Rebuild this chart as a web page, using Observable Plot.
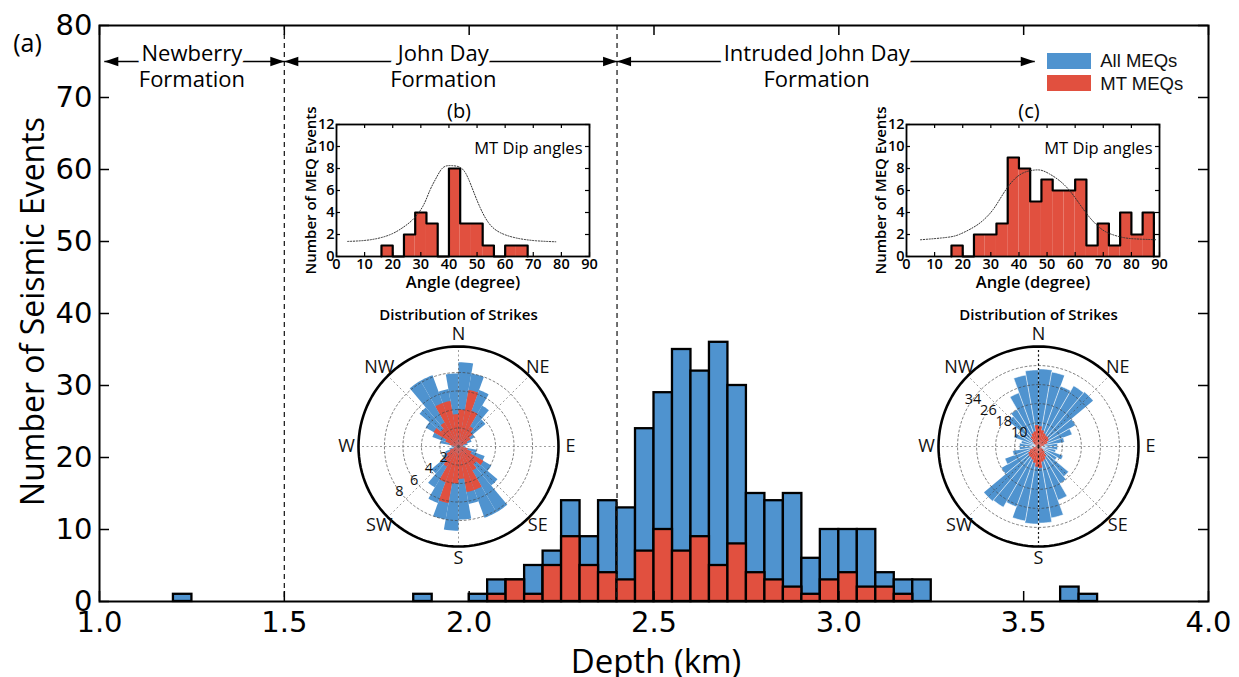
<!DOCTYPE html>
<html>
<head>
<meta charset="utf-8">
<script src="https://cdn.jsdelivr.net/npm/d3@7"></script>
<script src="https://cdn.jsdelivr.net/npm/@observablehq/plot@0.6"></script>
<style>
  html, body { margin: 0; padding: 0; background: #fff; }
  #fig { position: relative; width: 1239px; height: 677px; overflow: hidden; background: #fff; }
  #fig > * { position: absolute; }
</style>
</head>
<body>
<div id="fig"></div>
<script>
// ---- (a) depth histogram: 0.05 km bins, left edges ----
const depthBinStart = [1.20, 1.85,
  2.00, 2.05, 2.10, 2.15, 2.20, 2.25, 2.30, 2.35, 2.40, 2.45, 2.50, 2.55, 2.60,
  2.65, 2.70, 2.75, 2.80, 2.85, 2.90, 2.95, 3.00, 3.05, 3.10, 3.15, 3.20,
  3.60, 3.65];
const depthBinWidth = 0.05;
const allMEQs = [1, 1,
  1, 3, 3, 5, 7, 14, 9, 14, 13, 24, 29, 35, 32,
  36, 30, 15, 14, 15, 6, 10, 10, 10, 4, 3, 3,
  2, 1];
const mtMEQs = [0, 0,
  0, 1, 3, 1, 5, 9, 5, 4, 3, 7, 10, 7, 9,
  5, 8, 4, 3, 2, 1, 3, 4, 2, 2, 1, 0,
  0, 0];

const seriesNames = ["All MEQs", "MT MEQs"];
const seriesColors = ["#4f93cf", "#e1503f"];

// formations along the depth axis
const formationNames = ["Newberry\nFormation", "John Day\nFormation", "Intruded John Day\nFormation"];
const formationFrom = [1.013, 1.5, 2.4];
const formationTo = [1.5, 2.4, 3.53];
const formationLabelX = [1.25, 1.93, 2.94];
const formationBoundaries = [1.5, 2.4];
const arrowLevel = 75;

const depthTicks = [1.0, 1.5, 2.0, 2.5, 3.0, 3.5, 4.0];
const countTicks = [0, 10, 20, 30, 40, 50, 60, 70, 80];

// ---- (b), (c) MT dip-angle histograms: 4 degree bins ----
const dipBinWidth = 4;
const dipTicks = [0, 10, 20, 30, 40, 50, 60, 70, 80, 90];
const dipCountTicks = [0, 2, 4, 6, 8, 10, 12];

const dipB_start = [16, 20, 24, 28, 32, 36, 40, 44, 48, 52, 56, 60, 64];
const dipB_count = [1, 0, 2, 4, 3, 0, 8, 3, 3, 1, 0, 1, 1];
const fitB_angle = [4, 12, 19, 23.7, 27.3, 30.8, 33.2, 35.6, 38, 41, 44, 46.3, 48.6, 51, 54, 58, 64, 71, 78];
const fitB_count = [1.37, 1.52, 1.98, 2.65, 3.4, 4.6, 6.0, 7.2, 8.1, 8.26, 8.1, 7.4, 6.0, 4.5, 3.1, 2.2, 1.68, 1.43, 1.34];

const dipC_start = [16, 20, 24, 28, 32, 36, 40, 44, 48, 52, 56, 60, 64, 68, 72, 76, 80, 84];
const dipC_count = [1, 0, 2, 2, 3, 9, 8, 5, 7, 6, 6, 7, 1, 3, 1, 4, 2, 4];
const fitC_angle = [5, 14.4, 19.1, 23.8, 27.3, 30.9, 34.4, 37.9, 41.5, 45, 47.9, 50.9, 54.4, 58, 61.5, 65, 68.6, 72.1, 76.8, 81.5, 89];
const fitC_count = [1.52, 1.74, 2.04, 2.65, 3.3, 4.3, 5.7, 6.9, 7.6, 7.84, 7.84, 7.5, 6.9, 6.0, 4.8, 3.6, 2.65, 2.1, 1.74, 1.6, 1.52];

// ---- rose diagrams of strikes: 10 degree sectors 0-180, mirrored to 180-360 ----
const sectorWidth = 10;
const roseB_all = [9.1, 8.0, 6.5, 5.1, 3.8, 2.0, 1.5, 1.0, 0.5, 0.8, 2.0, 3.0, 4.1, 5.5, 8.2, 8.2, 6.3, 7.9];
const roseB_mt  = [4.0, 6.2, 4.1, 2.5, 2.0, 1.5, 1.0, 0.5, 0.3, 0.5, 1.0, 1.5, 3.1, 2.5, 3.0, 5.0, 5.0, 3.5];
const roseB_rings = [2, 4, 6, 8];
const roseB_max = 10.8;

const roseC_all = [32.6, 31.8, 27, 29.5, 30, 18, 15, 11, 8, 8, 7.4, 11, 9, 16.5, 18, 24, 30.5, 32.2];
const roseC_mt  = [8.5, 7, 6, 5.5, 5.5, 5, 4, 2.5, 1.5, 1, 1, 1.5, 2.5, 3.5, 5, 6, 6.5, 9];
const roseC_rings = [10, 18, 26, 34];
const roseC_max = 42;

const compassNames = ["N", "NE", "E", "SE", "S", "SW", "W", "NW"];
const compassAngles = [0, 45, 90, 135, 180, 225, 270, 315];

const fig = document.getElementById("fig");
const place = (node, left, top) => {
  node.style.left = left + "px";
  node.style.top = top + "px";
  fig.appendChild(node);
  return node;
};

// filled arrowheads, tip at the anchor point
const headRight = {draw(c) { c.moveTo(0, 0); c.lineTo(-14, -4.8); c.lineTo(-14, 4.8); c.closePath(); }};
const headLeft = {draw(c) { c.moveTo(0, 0); c.lineTo(14, -4.8); c.lineTo(14, 4.8); c.closePath(); }};

// ---------------- (a) main chart ----------------
{
  const bins = depthBinStart.map((x0, i) => ({x0, x1: x0 + depthBinWidth, all: allMEQs[i], mt: mtMEQs[i]}));
  const formations = formationNames.map((name, i) => ({
    name, from: formationFrom[i], to: formationTo[i], lx: formationLabelX[i]
  }));
  const segments = formations.flatMap(f => [{x1: f.lx, x2: f.from}, {x1: f.lx, x2: f.to}]);
  const W = 1239, H = 677, mL = 99, mR = 31, mT = 25, mB = 76;
  const frameW = W - mL - mR, frameH = H - mT - mB, tick = 10;
  const font = "DejaVu Sans";

  const chart = Plot.plot({
    width: W, height: H,
    marginLeft: mL, marginRight: mR, marginTop: mT, marginBottom: mB,
    style: {background: "transparent", overflow: "visible"},
    x: {domain: [1, 4]},
    y: {domain: [0, 80]},
    marks: [
      Plot.rectY(bins, {x1: "x0", x2: "x1", y: "all", fill: seriesColors[0], stroke: "black", strokeWidth: 2.3}),
      Plot.rectY(bins.filter(d => d.mt > 0), {x1: "x0", x2: "x1", y: "mt", fill: seriesColors[1], stroke: "black", strokeWidth: 2.3}),
      Plot.ruleX(formationBoundaries, {stroke: "#222", strokeWidth: 1.3, strokeDasharray: "5,4"}),
      Plot.link(segments, {x1: "x1", x2: "x2", y1: arrowLevel, y2: arrowLevel, stroke: "black", strokeWidth: 1.6}),
      Plot.dot(formations, {x: "from", y: arrowLevel, symbol: headLeft, r: 5, fill: "black"}),
      Plot.dot(formations, {x: "to", y: arrowLevel, symbol: headRight, r: 5, fill: "black"}),
      Plot.text(formations, {
        x: "lx", y: arrowLevel, text: "name", dy: 4, lineHeight: 1.18,
        fontSize: 22, fontFamily: "Open Sans", fill: "black",
        stroke: "white", strokeWidth: 10, strokeLinejoin: "round"
      }),
      Plot.frame({stroke: "black", strokeWidth: 2}),
      Plot.tickX(depthTicks, {x: d => d, insetTop: frameH - tick, strokeWidth: 1.5}),
      Plot.tickX(depthTicks, {x: d => d, insetBottom: frameH - tick, strokeWidth: 1.5}),
      Plot.tickY(countTicks, {y: d => d, insetRight: frameW - tick, strokeWidth: 1.5}),
      Plot.tickY(countTicks, {y: d => d, insetLeft: frameW - tick, strokeWidth: 1.5}),
      Plot.axisX({ticks: depthTicks, tickSize: 0, tickPadding: 10, tickFormat: d => d.toFixed(1),
        fontSize: 29, fontFamily: font, label: null}),
      Plot.axisY({ticks: countTicks, tickSize: 0, tickPadding: 7, tickFormat: d => String(d),
        fontSize: 29, fontFamily: font, label: null}),
      Plot.text(["Number of Seismic Events"], {frameAnchor: "left", textAnchor: "middle", lineAnchor: "middle",
        rotate: -90, dx: -66, dy: -2, fontSize: 32, fontFamily: "Open Sans"}),
      Plot.text(["Depth (km)"], {frameAnchor: "bottom", lineAnchor: "middle", dy: 61, dx: 2,
        fontSize: 33, fontFamily: "Open Sans"}),
      Plot.text(["(a)"], {frameAnchor: "top-left", textAnchor: "middle", lineAnchor: "middle",
        dx: -72, dy: 18, fontSize: 25, fontFamily: "Open Sans"})
    ]
  });
  place(chart, 0, 0);

  const legend = Plot.legend({
    color: {type: "ordinal", domain: seriesNames, range: seriesColors},
    swatchWidth: 44, swatchHeight: 16, columns: 1
  });
  legend.style.fontFamily = "'Liberation Sans', Arial, sans-serif";
  legend.style.fontSize = "18.5px";
  legend.style.lineHeight = "21.5px";
  legend.style.margin = "0";
  legend.style.color = "#111";
  place(legend, 1047, 50);
}

// ---------------- (b), (c) dip-angle histograms ----------------
function dipHistogram(starts, counts, fitAngle, fitCount, panel) {
  const bins = starts.map((x0, i) => ({x0, x1: x0 + dipBinWidth, n: counts[i]}));
  const outline = [{x: bins[0].x0, y: 0}, ...bins.map(d => ({x: d.x0, y: d.n})),
                   {x: bins[bins.length - 1].x1, y: 0}];
  const fit = fitAngle.map((a, i) => ({a, n: fitCount[i]}));
  const W = 310, H = 200, mL = 46, mR = 11, mT = 29, mB = 39;
  const frameW = W - mL - mR, frameH = H - mT - mB, tick = 4;
  const font = "Open Sans";
  return Plot.plot({
    width: W, height: H, marginLeft: mL, marginRight: mR, marginTop: mT, marginBottom: mB,
    style: {background: "transparent", overflow: "visible"},
    x: {domain: [0, 90]},
    y: {domain: [0, 12]},
    marks: [
      Plot.rectY(bins.filter(d => d.n > 0), {x1: "x0", x2: "x1", y: "n", fill: seriesColors[1]}),
      Plot.line(outline, {x: "x", y: "y", curve: "step-after", stroke: "black", strokeWidth: 2.2}),
      Plot.line(fit, {x: "a", y: "n", curve: "natural", stroke: "#333", strokeWidth: 1, strokeDasharray: "1.2,1.6"}),
      Plot.frame({stroke: "black", strokeWidth: 1.8}),
      Plot.tickX(dipTicks, {x: d => d, insetTop: frameH - tick, strokeWidth: 1.2}),
      Plot.tickX(dipTicks, {x: d => d, insetBottom: frameH - tick, strokeWidth: 1.2}),
      Plot.tickY(dipCountTicks, {y: d => d, insetRight: frameW - tick, strokeWidth: 1.2}),
      Plot.tickY(dipCountTicks, {y: d => d, insetLeft: frameW - tick, strokeWidth: 1.2}),
      Plot.axisX({ticks: dipTicks, tickSize: 0, tickPadding: 2, fontSize: 14.5, fontWeight: 600,
        fontFamily: font, label: null}),
      Plot.axisY({ticks: dipCountTicks, tickSize: 0, tickPadding: 2, fontSize: 14.5, fontWeight: 600,
        fontFamily: font, label: null}),
      Plot.text(["Angle (degree)"], {frameAnchor: "bottom", lineAnchor: "middle", dy: 26,
        fontSize: 16.5, fontWeight: 600, fontFamily: font}),
      Plot.text(["Number of MEQ Events"], {frameAnchor: "left", textAnchor: "middle", lineAnchor: "middle",
        rotate: -90, dx: -25, fontSize: 15, fontWeight: 600, fontFamily: font}),
      Plot.text(["MT Dip angles"], {frameAnchor: "top-right", textAnchor: "end", lineAnchor: "middle",
        dx: -7, dy: 24, fontSize: 16.5, fontWeight: 500, fontFamily: font}),
      Plot.text([panel], {frameAnchor: "top", lineAnchor: "middle", dx: -4, dy: -13,
        fontSize: 20, fontFamily: font})
    ]
  });
}
place(dipHistogram(dipB_start, dipB_count, fitB_angle, fitB_count, "(b)"), 290, 95);
place(dipHistogram(dipC_start, dipC_count, fitC_angle, fitC_count, "(c)"), 860, 95);

// ---------------- rose diagrams ----------------
function roseDiagram(allVals, mtVals, rmax, rings, ringLabelAngle, wedgeEdge, darkMeridian) {
  const S = 280, L = rmax * 1.4;
  const rad = d => d * Math.PI / 180;
  const polar = (r, deg) => ({x: r * Math.sin(rad(deg)), y: r * Math.cos(rad(deg))});
  const nSectors = 360 / sectorWidth;
  const wedges = vals => d3.range(nSectors).flatMap(i => {
    const v = vals[i % vals.length];
    const a0 = i * sectorWidth;
    const pts = [{s: i, ...polar(0, a0)}];
    for (let a = a0; a <= a0 + sectorWidth + 1e-9; a += 2) pts.push({s: i, ...polar(v, a)});
    return pts;
  });
  const circle = (values) => values.flatMap(r => d3.range(0, 361, 3).map(a => ({r, ...polar(r, a)})));
  const spokes = compassAngles.map(a => ({a, x1: 0, y1: 0, x2: polar(rmax, a).x, y2: polar(rmax, a).y}));
  const compass = compassNames.map((name, i) => ({name, ...polar(rmax * 1.12, compassAngles[i])}));
  const ringText = rings.map(r => ({t: String(r), ...polar(r, ringLabelAngle)}));
  const font = "Open Sans";
  return Plot.plot({
    width: S, height: S, margin: 0,
    style: {background: "transparent", overflow: "visible"},
    x: {domain: [-L, L], axis: null},
    y: {domain: [-L, L], axis: null},
    marks: [
      Plot.line(wedges(allVals), {x: "x", y: "y", z: "s", fill: seriesColors[0],
        stroke: wedgeEdge ? "white" : "none", strokeWidth: 0.6, curve: "linear"}),
      Plot.line(wedges(mtVals), {x: "x", y: "y", z: "s", fill: seriesColors[1], stroke: "none", curve: "linear"}),
      Plot.line(circle(rings), {x: "x", y: "y", z: "r", stroke: "#444", strokeOpacity: 0.75,
        strokeWidth: 0.9, strokeDasharray: "2,2.5"}),
      Plot.link(spokes, {x1: "x1", y1: "y1", x2: "x2", y2: "y2", stroke: "#444", strokeOpacity: 0.6,
        strokeWidth: 0.9, strokeDasharray: "2,2.5"}),
      darkMeridian ? Plot.link(spokes.filter(d => d.a % 180 === 0), {x1: "x1", y1: "y1", x2: "x2", y2: "y2",
        stroke: "#111", strokeWidth: 1.2, strokeDasharray: "2,2.5"}) : null,
      Plot.line(circle([rmax]), {x: "x", y: "y", stroke: "black", strokeWidth: 2.6}),
      Plot.text(ringText, {x: "x", y: "y", text: "t", fontSize: 14.5, fontFamily: font, fill: "#111"}),
      Plot.text(compass, {x: "x", y: "y", text: "name", fontSize: 18, fontFamily: font, fill: "#111"}),
      Plot.text(["Distribution of Strikes"], {frameAnchor: "top", lineAnchor: "middle", dy: 9,
        fontSize: 15, fontWeight: 600, fontFamily: font})
    ]
  });
}
place(roseDiagram(roseB_all, roseB_mt, roseB_max, roseB_rings, 233, false, false), 318, 306);
place(roseDiagram(roseC_all, roseC_mt, roseC_max, roseC_rings, 306, true, true), 898, 306);
</script>
</body>
</html>
